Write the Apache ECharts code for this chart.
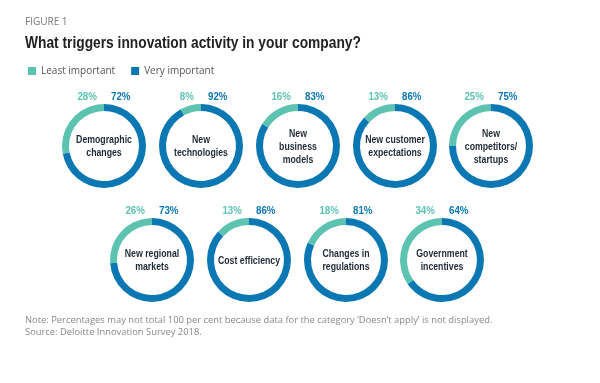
<!DOCTYPE html>
<html><head><meta charset="utf-8">
<script src="https://cdn.jsdelivr.net/npm/echarts@6/dist/echarts.min.js"></script>
<style>html,body{margin:0;padding:0;background:#fff}#c{width:600px;height:383px}</style>
</head><body><div id="c"></div>
<script>
var categories = ['Demographic\nchanges','New\ntechnologies','New\nbusiness\nmodels','New customer\nexpectations','New\ncompetitors/\nstartups','New regional\nmarkets','Cost efficiency','Changes in\nregulations','Government\nincentives'];
var leastImportant = [28, 8, 16, 13, 25, 26, 13, 18, 34];
var veryImportant = [72, 92, 83, 86, 75, 73, 86, 81, 64];

var TEAL = '#5cc3b1', BLUE = '#0b77b3';
var FONT = '"Liberation Sans", Arial, sans-serif';
var centers = [[104,146],[201,146],[298,146],[395,146],[491,146],[152,260],[249,260],[346,260],[442,260]];
var R_OUT = 42, R_IN = 35;

var series = [], graphics = [];
categories.forEach(function(cat, i){
  series.push({
    type: 'pie', center: centers[i], radius: [R_IN, R_OUT], startAngle: 90, clockwise: true,
    silent: true, avoidLabelOverlap: false, labelLine: {show:false},
    label: {show:false},
    data: [
      {name:'Very important', value: veryImportant[i], itemStyle:{color:BLUE}},
      {name:'Least important', value: leastImportant[i], itemStyle:{color:TEAL}}
    ]
  });
  var c = centers[i];
  graphics.push({type:'text', x:c[0], y:c[1]+0.5, scaleX:0.76, silent:true,
    style:{text: cat, align:'center', verticalAlign:'middle', fill:'#1f2a36', font:'bold 11.5px '+FONT, lineHeight:13}});
  graphics.push({type:'text', x:c[0]-7, y:c[1]-R_OUT-7, scaleX:0.85, silent:true,
    style:{text: leastImportant[i]+'%', align:'right', verticalAlign:'middle', fill:TEAL, font:'bold 11.5px '+FONT}});
  graphics.push({type:'text', x:c[0]+7, y:c[1]-R_OUT-7, scaleX:0.85, silent:true,
    style:{text: veryImportant[i]+'%', align:'left', verticalAlign:'middle', fill:BLUE, font:'bold 11.5px '+FONT}});
});

graphics.push({type:'text', x:25, y:22, silent:true, style:{text:'FIGURE 1', verticalAlign:'middle', fill:'#777', font:'10px "Open Sans", sans-serif'}});
graphics.push({type:'text', x:25, y:43, scaleX:0.81, silent:true, style:{text:'What triggers innovation activity in your company?', verticalAlign:'middle', fill:'#222', font:'bold 17px '+FONT}});
graphics.push({type:'text', x:25, y:326, silent:true, style:{text:"Note: Percentages may not total 100 per cent because data for the category \u2018Doesn\u2019t apply\u2019 is not displayed.\nSource: Deloitte Innovation Survey 2018.", verticalAlign:'middle', fill:'#888', font:'9.4px "Open Sans", sans-serif', lineHeight:12}});

var chart = echarts.init(document.getElementById('c'));
chart.setOption({
  animation:false,
  legend:{left:23, top:61, data:['Least important','Very important'], icon:'rect', itemWidth:8, itemHeight:8, itemGap:16,
    textStyle:{color:'#555', fontSize:10, fontFamily:'"Open Sans", sans-serif'}, selectedMode:false},
  series: series,
  graphic: graphics
});
</script></body></html>
